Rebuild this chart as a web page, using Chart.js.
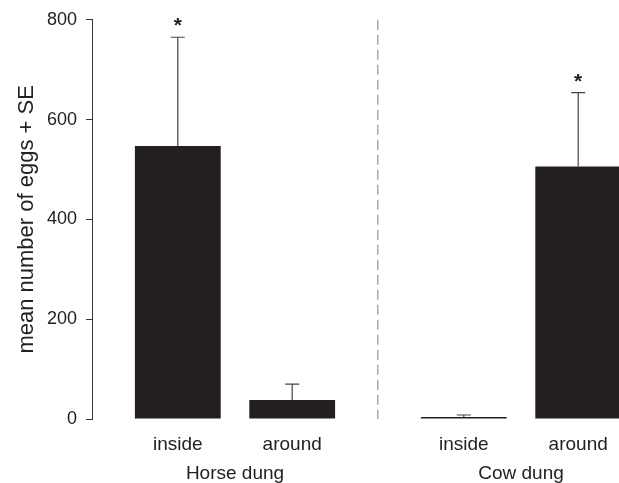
<!DOCTYPE html>
<html>
<head>
<meta charset="utf-8">
<script src="https://cdn.jsdelivr.net/npm/chart.js@4.4.0/dist/chart.umd.min.js"></script>
<style>
  html, body { margin: 0; padding: 0; background: #fff; overflow: hidden; }
  #wrap { width: 664px; height: 483px; }
</style>
</head>
<body>
<div id="wrap"><canvas id="chart"></canvas></div>
<script>
// dung type groups and the two positions
var categories = ['Horse dung', 'Cow dung'];
var positions = ['inside', 'around'];

// mean number of eggs, per position, per dung type
var insideMean = [547, 4];
var aroundMean = [38, 506];

// standard errors
var insideSE = [218, 4];
var aroundSE = [32, 148];

// significant difference marks (*)
var insideSig = [true, false];
var aroundSig = [false, true];

var yTicks = [0, 200, 400, 600, 800];

var barColor = '#231f20';
var font = 'Liberation Sans, Arial, sans-serif';

var seList = [insideSE, aroundSE];
var sigList = [insideSig, aroundSig];

// error bars, asterisks and position labels under each bar
var extras = {
  id: 'extras',
  afterDatasetsDraw: function(chart) {
    var ctx = chart.ctx;
    var y = chart.scales.y;
    var area = chart.chartArea;
    chart.data.datasets.forEach(function(ds, di) {
      var meta = chart.getDatasetMeta(di);
      meta.data.forEach(function(bar, i) {
        var top = y.getPixelForValue(ds.data[i] + seList[di][i]);
        var base = y.getPixelForValue(ds.data[i]);
        ctx.save();
        ctx.strokeStyle = '#444';
        ctx.lineWidth = 1.2;
        ctx.beginPath();
        ctx.moveTo(bar.x, base);
        ctx.lineTo(bar.x, top);
        ctx.moveTo(bar.x - 7, top);
        ctx.lineTo(bar.x + 7, top);
        ctx.stroke();

        ctx.fillStyle = '#222';
        ctx.textAlign = 'center';
        ctx.textBaseline = 'alphabetic';
        if (sigList[di][i]) {
          ctx.font = 'bold 21px ' + font;
          ctx.fillText('*', bar.x, top - 5);
        }
        ctx.font = '19px ' + font;
        ctx.fillText(ds.label, bar.x, area.bottom + 31);
        ctx.restore();
      });
    });
  }
};

var ctx = document.getElementById('chart').getContext('2d');
var myChart = new Chart(ctx, {
  type: 'bar',
  data: {
    labels: categories,
    datasets: [
      { label: positions[0], data: insideMean, backgroundColor: barColor },
      { label: positions[1], data: aroundMean, backgroundColor: barColor }
    ]
  },
  options: {
    responsive: true,
    maintainAspectRatio: false,
    animation: false,
    devicePixelRatio: 1,
    categoryPercentage: 0.8,
    barPercentage: 0.75,
    layout: { padding: { top: 19, left: 0, right: 0, bottom: 0 } },
    plugins: {
      legend: { display: false },
      tooltip: { enabled: false }
    },
    scales: {
      x: {
        grid: {
          offset: true,
          drawTicks: false,
          lineWidth: 1.5,
          color: function(c) { return c.index === 1 ? '#aaaaaa' : 'rgba(0,0,0,0)'; }
        },
        border: { display: false, dash: [10, 5] },
        ticks: {
          padding: 43,
          color: '#222',
          font: { family: font, size: 19 }
        },
        afterFit: function(scale) { scale.height = 64; }
      },
      y: {
        min: 0,
        max: 800,
        afterBuildTicks: function(scale) {
          scale.ticks = yTicks.map(function(v) { return { value: v }; });
        },
        grid: {
          drawOnChartArea: false,
          color: '#333',
          tickLength: 6
        },
        border: { display: true, color: '#333', width: 1 },
        ticks: {
          padding: 9,
          color: '#222',
          font: { family: font, size: 18 }
        },
        title: {
          display: true,
          text: 'mean number of eggs + SE',
          color: '#222',
          font: { family: font, size: 22 },
          padding: { top: 14, bottom: 0 }
        },
        afterFit: function(scale) { scale.width = 92; }
      }
    }
  },
  plugins: [extras]
});
</script>
</body>
</html>
